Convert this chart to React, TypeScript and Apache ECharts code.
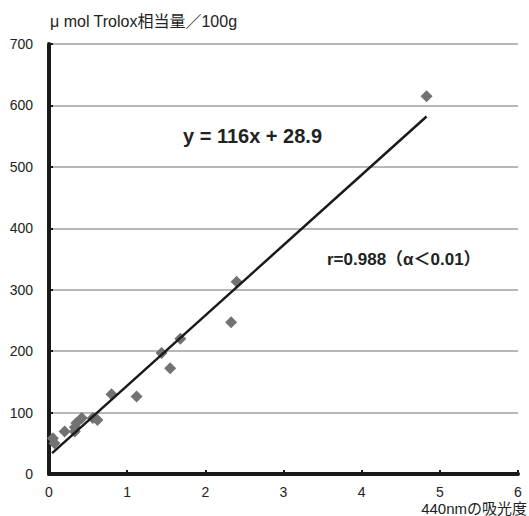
import React, { useEffect, useRef } from "react";
import * as echarts from "echarts";

const absorbance = [4.83, 2.4, 2.33, 1.68, 1.44, 1.55, 1.12, 0.8, 0.56, 0.62, 0.42, 0.35, 0.33, 0.33, 0.2, 0.05, 0.07];
const trolox = [615, 313, 247, 220, 197, 172, 126, 130, 91, 88, 91, 83, 76, 69, 69, 58, 50];
const trendX = [0.04, 4.83];
const trendY = [34, 582];
const xTicks = [0, 1, 2, 3, 4, 5, 6];
const yTicks = [0, 100, 200, 300, 400, 500, 600, 700];

const title = "μ mol Trolox相当量／100g";
const xName = "440nmの吸光度";
const equation = "y = 116x + 28.9";
const corr = "r=0.988（α＜0.01）";

const FONT = "'Liberation Sans', 'Noto Sans CJK JP', sans-serif";

export default function App() {
  const ref = useRef<HTMLDivElement>(null);
  useEffect(() => {
    if (!ref.current) return;
    const chart = echarts.init(ref.current, null, { renderer: "svg" });
    chart.setOption({
      animation: false,
      backgroundColor: "#ffffff",
      grid: { left: 49, right: 11, top: 44, bottom: 42, containLabel: false },
      xAxis: {
        type: "value",
        min: xTicks[0],
        max: xTicks[xTicks.length - 1],
        interval: 1,
        splitLine: { show: false },
        axisLine: { show: true, lineStyle: { color: "#1a1a1a", width: 4 } },
        axisTick: { show: true, inside: true, length: 4, lineStyle: { color: "#1a1a1a", width: 2 } },
        axisLabel: { margin: 11, color: "#222", fontSize: 14, fontFamily: FONT },
      },
      yAxis: {
        type: "value",
        min: yTicks[0],
        max: yTicks[yTicks.length - 1],
        interval: 100,
        splitLine: { show: true, lineStyle: { color: "#a0a0a0", width: 1.5 } },
        axisLine: { show: true, lineStyle: { color: "#1a1a1a", width: 4 } },
        axisTick: { show: true, inside: true, length: 4, lineStyle: { color: "#1a1a1a", width: 2 } },
        axisLabel: { margin: 16, color: "#222", fontSize: 14, fontFamily: FONT },
      },
      series: [
        {
          type: "line",
          data: trendX.map((x, i) => [x, trendY[i]]),
          symbol: "none",
          lineStyle: { color: "#1a1a1a", width: 2.5 },
          z: 3,
        },
        {
          type: "scatter",
          data: absorbance.map((x, i) => [x, trolox[i]]),
          symbol: "diamond",
          symbolSize: 12,
          itemStyle: { color: "#727272", opacity: 1 },
          z: 2,
        },
      ],
      graphic: [
        {
          type: "text",
          left: 50,
          top: 13,
          style: { text: title, font: `16px ${FONT}`, fill: "#222" },
        },
        {
          type: "text",
          x: 527,
          y: 508,
          style: {
            text: xName,
            font: `15px ${FONT}`,
            fill: "#222",
            align: "right",
            verticalAlign: "middle",
          },
        },
        {
          type: "text",
          left: 183,
          top: 126,
          style: { text: equation, font: `bold 20px ${FONT}`, fill: "#222" },
        },
        {
          type: "text",
          left: 327,
          top: 251,
          style: { text: corr, font: `bold 17px ${FONT}`, fill: "#222" },
        },
      ],
    });
    return () => chart.dispose();
  }, []);
  return <div ref={ref} style={{ position: "fixed", left: 0, top: 0, width: 529, height: 516 }} />;
}
